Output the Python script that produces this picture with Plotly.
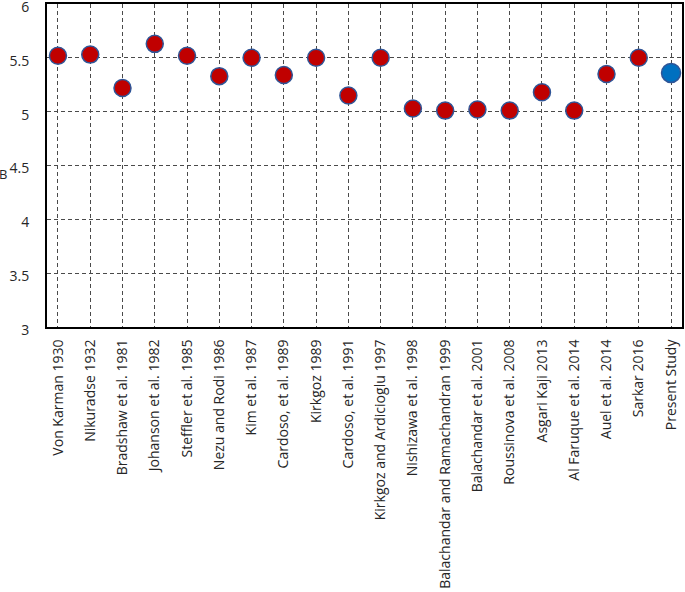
import plotly.graph_objects as go

studies = [
    "Von Karman 1930", "Nikuradse 1932", "Bradshaw et al. 1981", "Johanson et al. 1982",
    "Steffler et al. 1985", "Nezu and Rodi 1986", "Kim et al. 1987", "Cardoso, et al. 1989",
    "Kirkgoz 1989", "Cardoso, et al. 1991", "Kirkgoz and Ardicioglu 1997", "Nishizawa et al. 1998",
    "Balachandar and Ramachandran 1999", "Balachandar et al. 2001", "Roussinova et al. 2008",
    "Asgari Kaji 2013", "Al Faruque et al. 2014", "Auel et al. 2014", "Sarkar 2016",
]
b_values = [5.52, 5.53, 5.22, 5.63, 5.52, 5.33, 5.50, 5.34, 5.50, 5.15, 5.50, 5.03,
            5.01, 5.02, 5.01, 5.18, 5.01, 5.35, 5.50]

present_label = ["Present Study"]
present_value = [5.36]

y_ticks = [3, 3.5, 4, 4.5, 5, 5.5, 6]
y_tick_text = ["3", "3.5", "4", "4.5", "5", "5.5", "6"]

all_cats = studies + present_label

fig = go.Figure()
fig.add_trace(go.Scatter(
    x=studies, y=b_values, mode="markers",
    marker=dict(size=17, color="#C00000", line=dict(color="#2F5597", width=1.5)),
    showlegend=False, cliponaxis=False,
))
fig.add_trace(go.Scatter(
    x=present_label, y=present_value, mode="markers",
    marker=dict(size=19, color="#0070C0", line=dict(color="#2F5597", width=1.5)),
    showlegend=False, cliponaxis=False,
))

axis_font = dict(family="Open Sans", size=14, color="#262626")
grid_dash = "4px,3px"

fig.update_xaxes(
    type="category", categoryorder="array", categoryarray=all_cats,
    range=[-0.34, 19.34], tickangle=-90, automargin=False,
    showgrid=True, gridcolor="#4a4a4a", gridwidth=1, griddash=grid_dash,
    showline=True, linecolor="black", linewidth=2, mirror=True,
    ticks="", tickfont=axis_font, ticklabelstandoff=5, zeroline=False,
)
fig.update_yaxes(
    range=[3, 6.0], tickvals=y_ticks, ticktext=y_tick_text, automargin=False,
    showgrid=True, gridcolor="#4a4a4a", gridwidth=1, griddash=grid_dash,
    showline=True, linecolor="black", linewidth=2, mirror=True,
    ticks="", tickfont=dict(family="Open Sans", size=14, color="#262626"),
    ticklabelstandoff=13, ticklabelshift=3, ticklabeloverflow="allow", zeroline=False,
)

fig.add_annotation(
    text="B", xref="paper", yref="paper", x=-0.079, y=0.475, xanchor="left", yanchor="middle",
    showarrow=False, font=dict(family="Open Sans", size=13, color="#262626"),
)

fig.update_layout(
    width=685, height=592,
    margin=dict(l=47, r=3, t=4, b=265),
    plot_bgcolor="white", paper_bgcolor="white",
)

fig.write_html("out.html", config={"displayModeBar": False},
               post_script="document.body.style.margin='0';")
